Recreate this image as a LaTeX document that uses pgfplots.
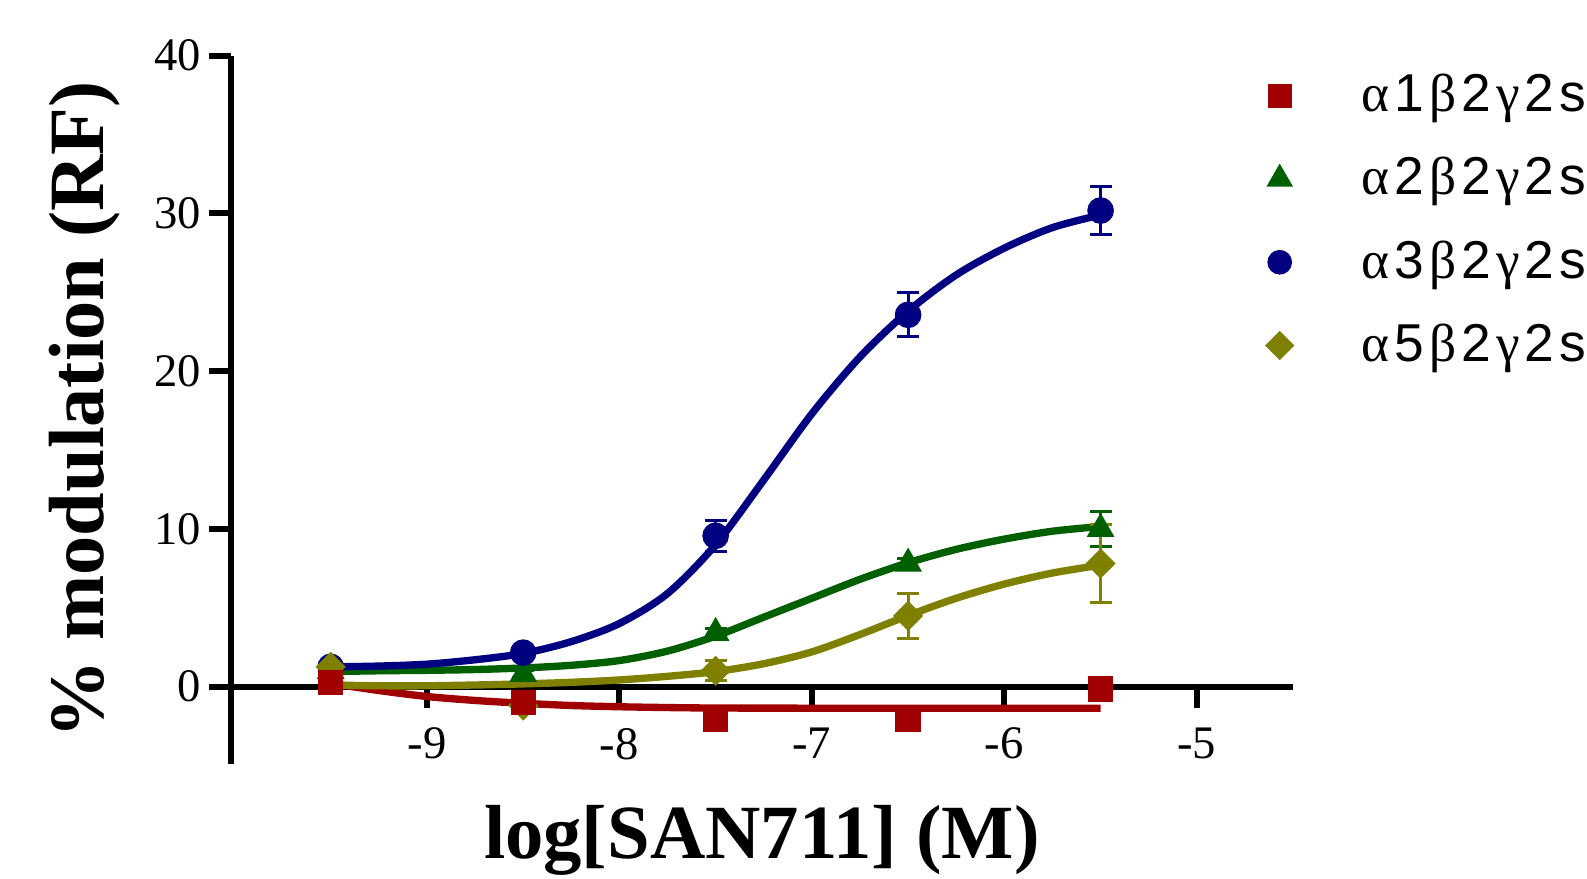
\documentclass[border=0pt]{standalone}
\usepackage{pgfplots}
\pgfplotsset{compat=1.18}
\usepackage{fontspec}
\setmainfont{Liberation Serif}
\newfontfamily\legfont{Liberation Sans}
\newfontfamily\grk{Liberation Serif}
\newcommand\ls{\kern1.5pt}
\newcommand\sub[2]{{\grk α}\ls#1\ls{\grk β}\ls2\ls{\grk γ}\ls2\ls s}

\definecolor{cred}{RGB}{160,0,0}
\definecolor{cgreen}{RGB}{0,96,0}
\definecolor{cblue}{RGB}{0,0,128}
\definecolor{colive}{RGB}{128,128,0}

\begin{document}
\begin{tikzpicture}
\useasboundingbox (-69.2pt,-34.3pt) rectangle (407pt,229.2pt);
\begin{axis}[
  at={(0,0)}, anchor=south west,
  scale only axis, width=318.8pt, height=212.5pt,
  xmin=-10.02, xmax=-4.5, ymin=-4.9, ymax=40,
  axis x line=middle, axis y line=left,
  axis line style={-, line width=1.8pt, black},
  xtick={-9,-8,-7,-6,-5}, ytick={0,10,20,30,40},
  tick align=outside, major tick length=6.5pt,
  tick style={line width=1.8pt, black},
  ticklabel style={font=\fontsize{14}{16}\selectfont},
  xticklabel style={yshift=-2.4pt},
  yticklabel style={xshift=1.2pt},
  /pgf/number format/assume math mode=true,
  xlabel={log[SAN711] (M)}, ylabel={\% modulation (RF)},
  label style={font=\bfseries\fontsize{23.5}{26}\selectfont},
  xlabel style={at={(axis description cs:0.5,-0.134)}, anchor=base, font=\bfseries\fontsize{23}{26}\selectfont},
  ylabel style={at={(axis description cs:-0.12,0.5)}, anchor=base},
  legend style={at={(axis description cs:0.9746,0.973)}, anchor=north west,
    draw=none, fill=none, inner sep=0pt, outer sep=0pt,
    font=\legfont\fontsize{16}{19}\selectfont,
    nodes={inner sep=0pt, text height=11pt, text depth=3.5pt},
    column sep=20.5pt, row sep=10.5pt},
  legend cell align=left,
  legend image code/.code={\draw[#1] plot coordinates {(0pt,1pt)};},
]
\addlegendimage{only marks, cred, mark=square*, mark size=3.4pt}
\addlegendentry{\sub1{}}
\addlegendimage{only marks, cgreen, mark=triangle*, mark size=4.2pt}
\addlegendentry{\sub2{}}
\addlegendimage{only marks, cblue, mark=*, mark size=3.5pt}
\addlegendentry{\sub3{}}
\addlegendimage{only marks, colive, mark=square*, mark size=2.9pt, mark options={rotate=45}}
\addlegendentry{\sub5{}}

% fitted curves
\addplot[cred, line width=2.2pt, smooth, forget plot] coordinates {
  (-9.5,0.2) (-9.25,-0.25) (-9,-0.63) (-8.75,-0.88) (-8.5,-1.06) (-8.25,-1.2)
  (-8,-1.28) (-7.75,-1.33) (-7.5,-1.36) (-7,-1.37) (-6.5,-1.37) (-6,-1.37) (-5.5,-1.37)};
\addplot[cgreen, line width=2.2pt, smooth, forget plot] coordinates {
  (-9.5,0.95) (-9.25,1.0) (-9,1.03) (-8.75,1.08) (-8.5,1.18) (-8.25,1.35)
  (-8,1.65) (-7.75,2.25) (-7.5,3.2) (-7.25,4.4) (-7,5.6) (-6.75,6.8)
  (-6.5,7.85) (-6.25,8.7) (-6,9.35) (-5.75,9.85) (-5.5,10.15)};
\addplot[cblue, line width=2.2pt, smooth, forget plot] coordinates {
  (-9.5,1.25) (-9.25,1.3) (-9,1.42) (-8.75,1.7) (-8.5,2.1) (-8.25,2.85)
  (-8,4.0) (-7.75,5.9) (-7.5,9.0) (-7.25,13.1) (-7,17.3) (-6.75,20.9)
  (-6.5,23.8) (-6.25,26.1) (-6,27.8) (-5.75,29.1) (-5.5,29.9)};
\addplot[colive, line width=2.2pt, smooth, forget plot] coordinates {
  (-9.5,0.1) (-9.25,0.05) (-9,0.05) (-8.75,0.1) (-8.5,0.17) (-8.25,0.27)
  (-8,0.42) (-7.75,0.65) (-7.5,0.95) (-7.25,1.45) (-7,2.2) (-6.75,3.3)
  (-6.5,4.5) (-6.25,5.6) (-6,6.5) (-5.75,7.2) (-5.5,7.7)};

% data points
\addplot[cgreen, only marks, mark=triangle*, mark size=4.4pt, forget plot,
  error bars/.cd, y dir=both, y explicit,
  error bar style={line width=0.9pt},
  error mark options={rotate=90, mark size=3.3pt, line width=0.9pt}]
  coordinates {(-9.5,1.0) +- (0,0.2) (-8.5,0.8) +- (0,0.2) (-7.5,3.4) +- (0,0.3)
  (-6.5,7.8) +- (0,0.3) (-5.5,10.0) +- (0,1.1)};
\addplot[cblue, only marks, mark=*, mark size=3.8pt, forget plot,
  error bars/.cd, y dir=both, y explicit,
  error bar style={line width=0.9pt},
  error mark options={rotate=90, mark size=3.3pt, line width=0.9pt}]
  coordinates {(-9.5,1.25) +- (0,0.2) (-8.5,2.15) +- (0,0.2) (-7.5,9.56) +- (0,0.98)
  (-6.5,23.57) +- (0,1.39) (-5.5,30.18) +- (0,1.51)};
\addplot[colive, only marks, mark=square*, mark size=3.0pt, forget plot,
  mark options={rotate=45},
  error bars/.cd, y dir=both, y explicit,
  error bar style={line width=0.9pt},
  error mark options={rotate=90, mark size=3.3pt, line width=0.9pt}]
  coordinates {(-9.5,1.25) +- (0,0.2) (-8.5,-1.2) +- (0,0.2) (-7.5,1.0) +- (0,0.63)
  (-6.5,4.48) +- (0,1.44) (-5.5,7.8) +- (0,2.5)};
\addplot[cred, only marks, mark=square*, mark size=3.6pt, forget plot]
  coordinates {(-9.5,0.25) (-8.5,-1.0) (-7.5,-2.05) (-6.5,-2.1) (-5.5,-0.15)};
\end{axis}
\end{tikzpicture}
\end{document}
